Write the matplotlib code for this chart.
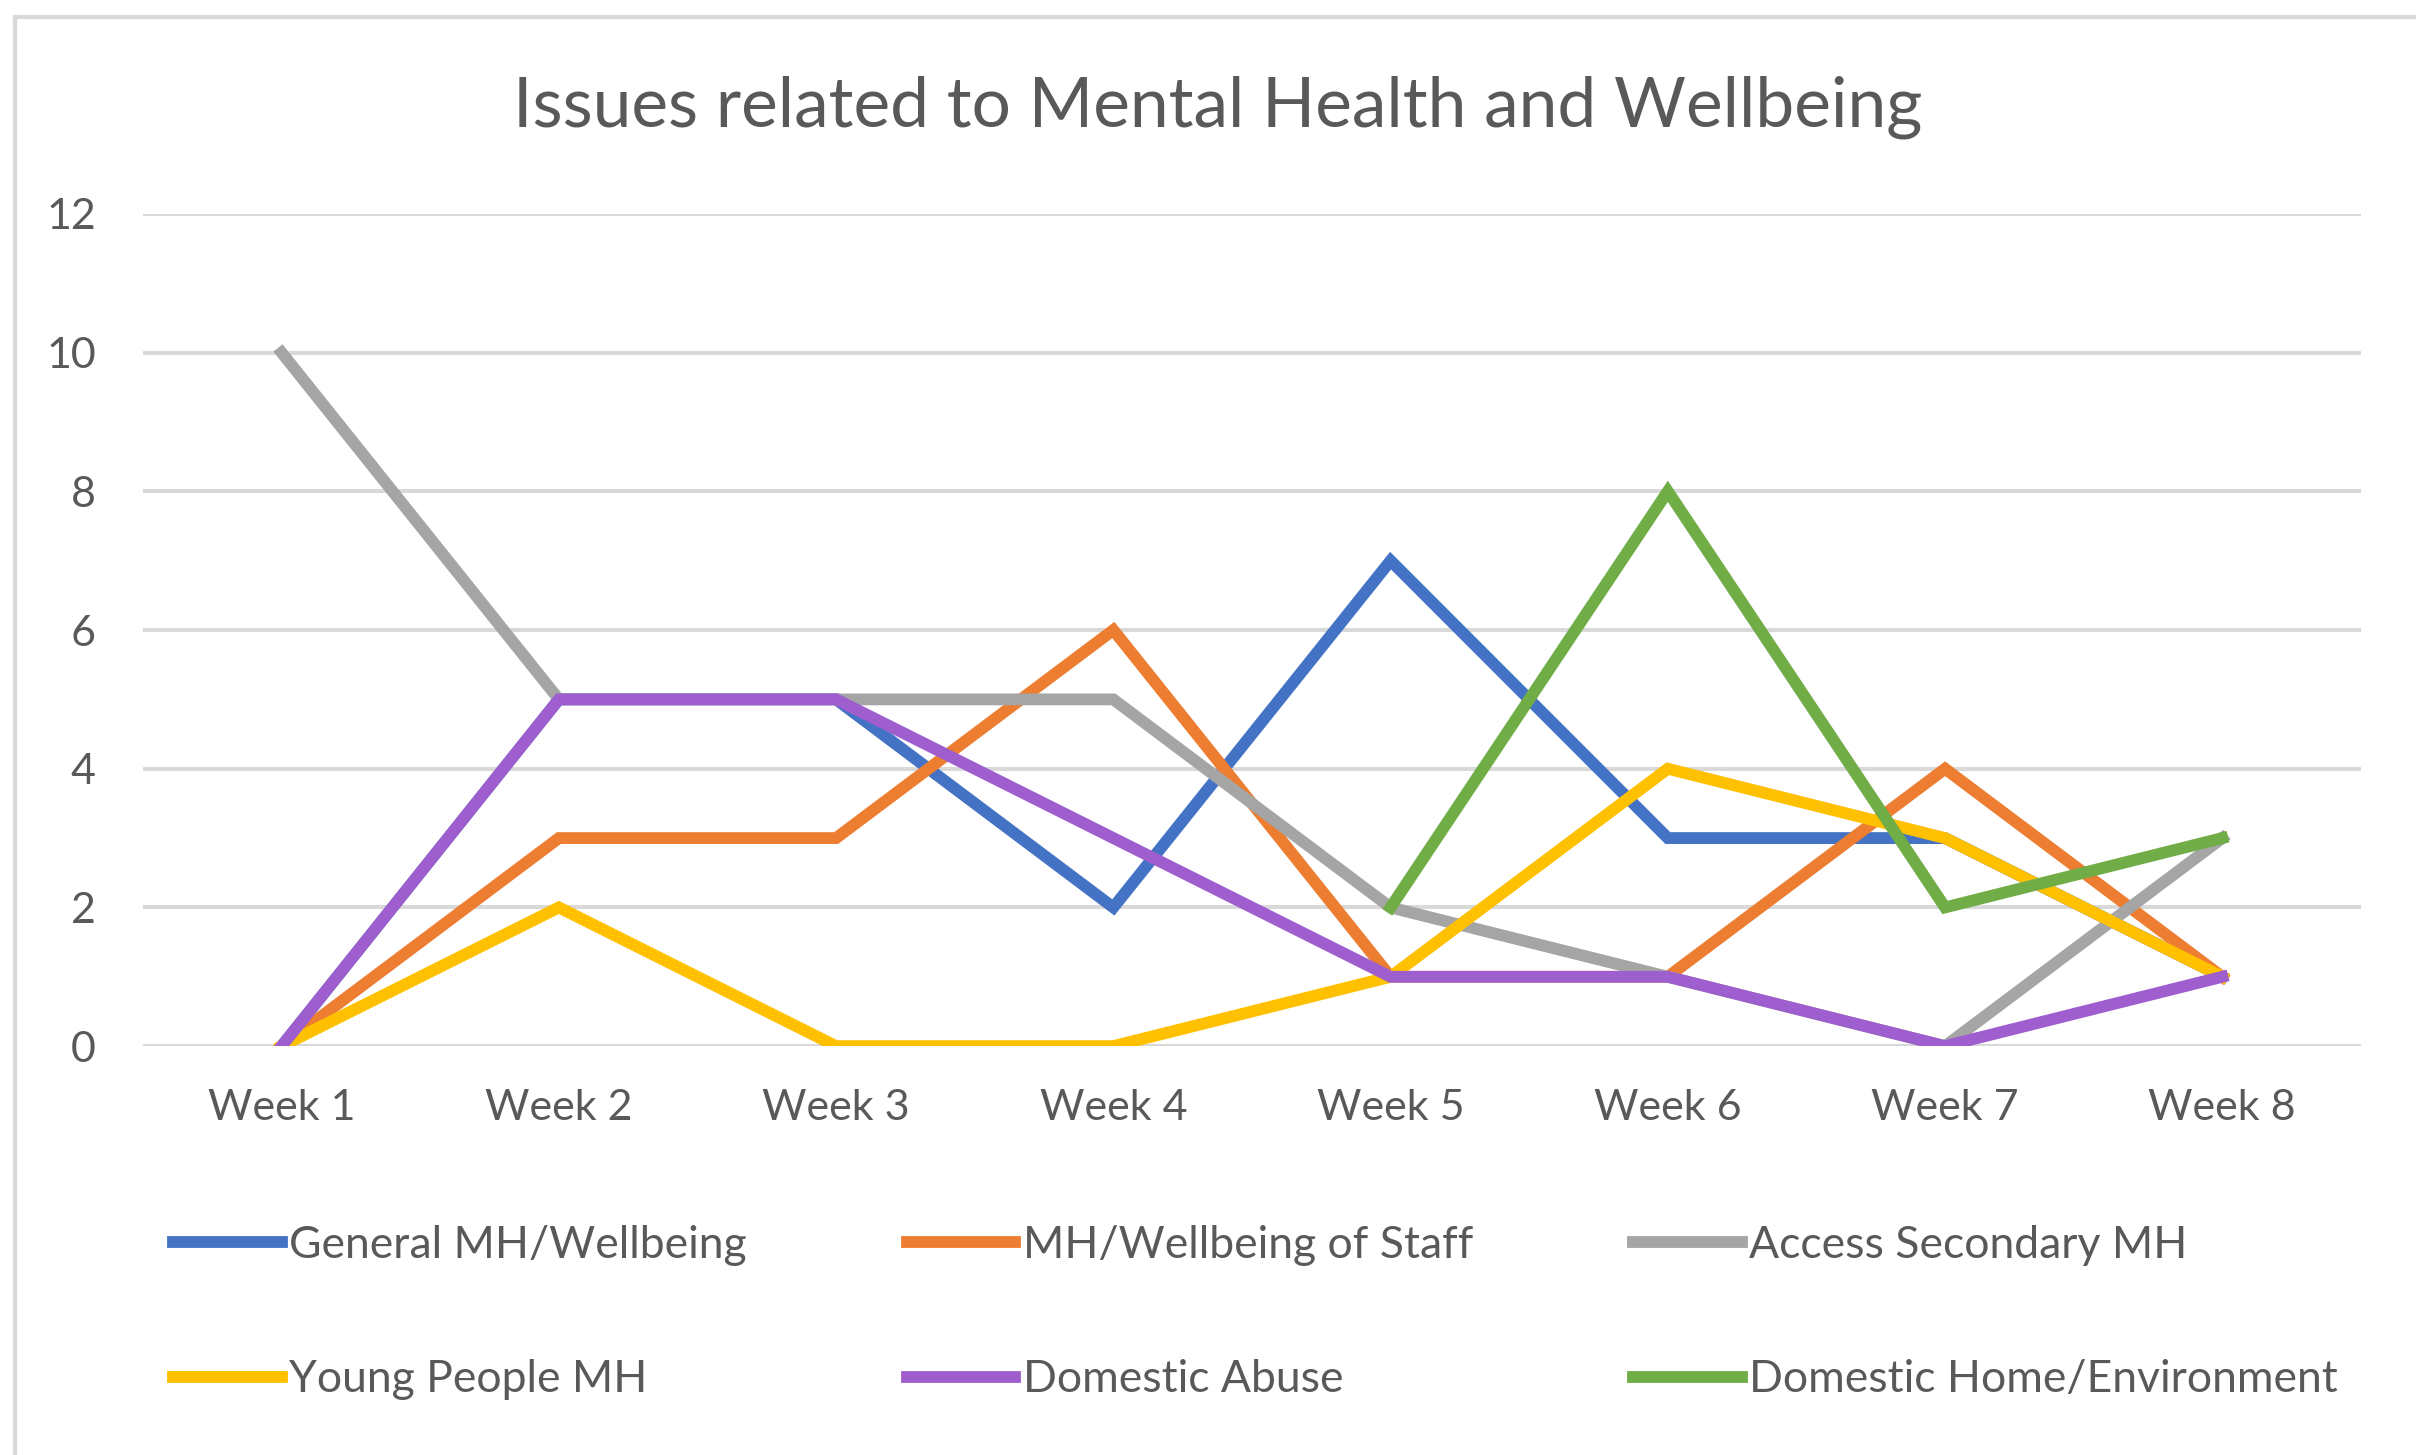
import matplotlib.pyplot as plt
import numpy as np

plt.rcParams['font.family'] = ['Lato', 'DejaVu Sans']

weeks = ['Week 1', 'Week 2', 'Week 3', 'Week 4', 'Week 5', 'Week 6', 'Week 7', 'Week 8']

general_mh = [0, 5, 5, 2, 7, 3, 3, 1]
staff_mh = [0, 3, 3, 6, 1, 1, 4, 1]
access_secondary = [10, 5, 5, 5, 2, 1, 0, 3]
young_people = [0, 2, 0, 0, 1, 4, 3, 1]
domestic_abuse = [0, 5, 5, 3, 1, 1, 0, 1]
domestic_home = [np.nan, np.nan, np.nan, np.nan, 2, 8, 2, 3]  # no data before week 5

series = [
    ('General MH/Wellbeing', general_mh, '#4472C4'),
    ('MH/Wellbeing of Staff', staff_mh, '#ED7D31'),
    ('Access Secondary MH', access_secondary, '#A5A5A5'),
    ('Young People MH', young_people, '#FFC000'),
    ('Domestic Abuse', domestic_abuse, '#9E5ECE'),
    ('Domestic Home/Environment', domestic_home, '#70AD47'),
]

text_col = '#595959'
grid_col = '#D9D9D9'

fig = plt.figure(figsize=(24.16, 14.55), dpi=100)
ax = fig.add_axes([0.0592, 0.281, 0.9180, 0.572])

x = np.arange(len(weeks))
handles = []
for name, vals, col in series:
    h, = ax.plot(x, vals, color=col, lw=8.5, label=name, solid_joinstyle='miter')
    handles.append(h)

ax.set_xlim(-0.5, len(weeks) - 0.5)
ax.set_ylim(0, 12)
ax.set_yticks(range(0, 13, 2))
ax.set_xticks(x)
ax.set_xticklabels(weeks)
ax.grid(axis='y', color=grid_col, lw=2.9)
ax.set_axisbelow(True)
for s in ax.spines.values():
    s.set_visible(False)
ax.tick_params(axis='both', length=0, labelsize=31, labelcolor=text_col)
ax.tick_params(axis='y', pad=34)
ax.tick_params(axis='x', pad=31)

fig.suptitle('Issues related to Mental Health and Wellbeing', x=0.504, y=0.926,
             va='center', fontsize=50, color=text_col)

# legend is filled row by row in the original, matplotlib fills by column
order = [0, 3, 1, 4, 2, 5]
fig.legend([handles[i] for i in order], [series[i][0] for i in order],
           loc='center left', bbox_to_anchor=(0.0716, 0.098), ncol=3,
           frameon=False, fontsize=32, labelcolor=text_col, handlelength=2.45,
           handletextpad=0.16, columnspacing=3.6, labelspacing=2.1,
           borderpad=0, borderaxespad=0)

# light frame round the chart area
fig.add_artist(plt.Line2D([15 / 2416, 1], [1 - 17 / 1455] * 2, color=grid_col, lw=3))
fig.add_artist(plt.Line2D([15 / 2416] * 2, [0, 1 - 17 / 1455], color=grid_col, lw=3))

plt.savefig('out.png', dpi=100)
